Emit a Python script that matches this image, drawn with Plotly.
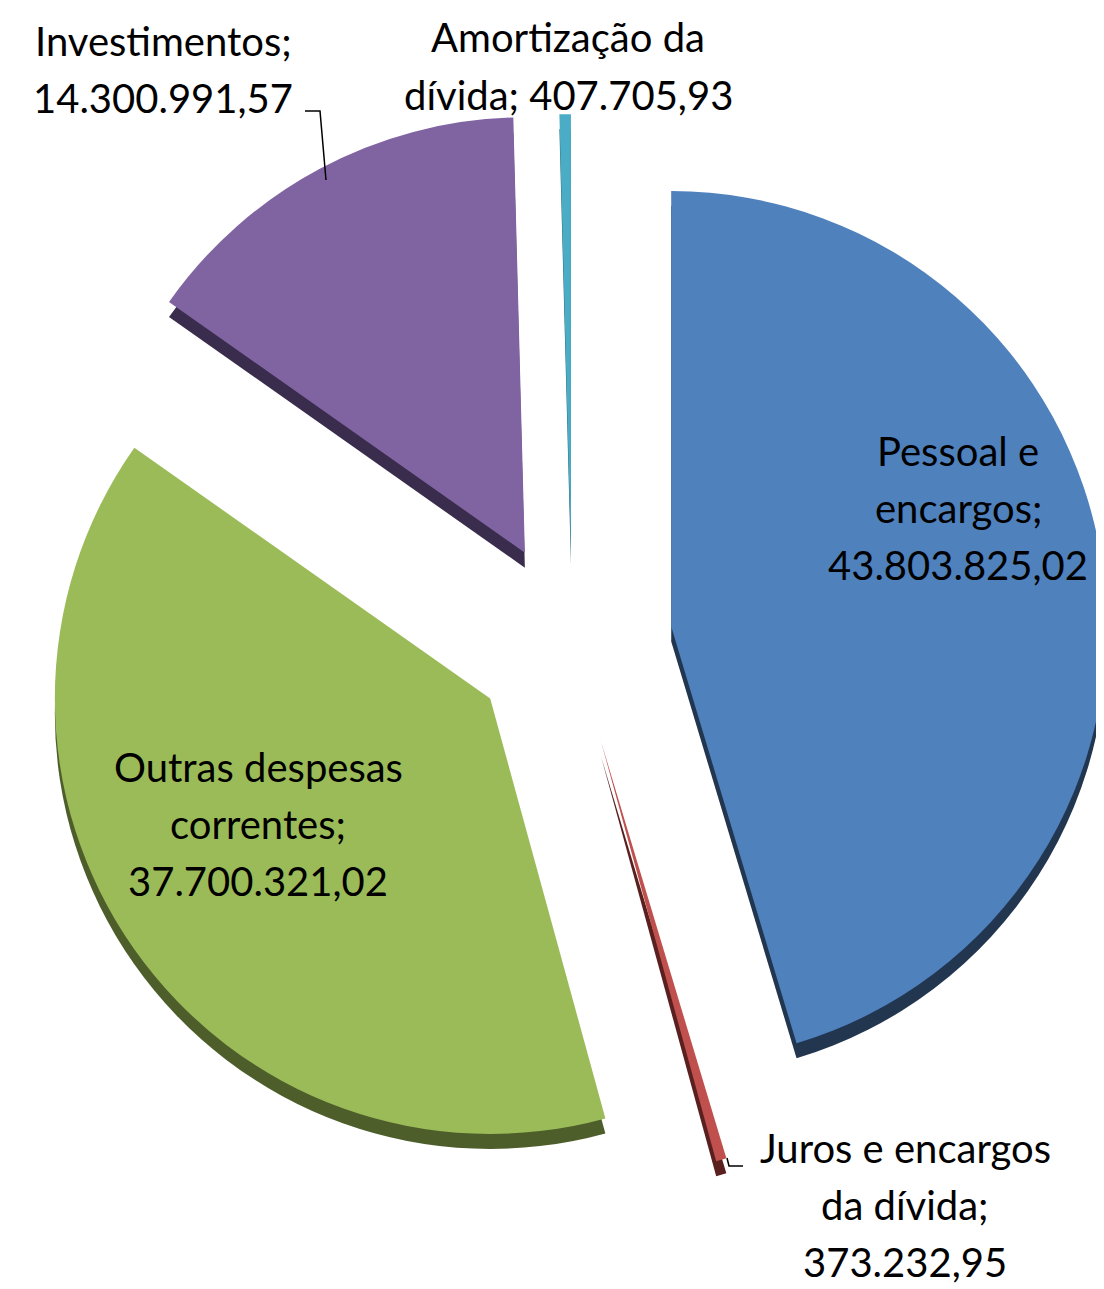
import plotly.graph_objects as go

# ---- data ----
categories = ["Pessoal e encargos", "Juros e encargos da dívida", "Outras despesas correntes",
              "Investimentos", "Amortização da dívida"]
values = [43803825.02, 373232.95, 37700321.02, 14300991.57, 407705.93]
label_lines = ["Pessoal e<br>encargos", "Juros e encargos<br>da dívida", "Outras despesas<br>correntes",
               "Investimentos", "Amortização da<br>dívida"]
value_sep = ["<br>", "<br>", "<br>", "<br>", " "]

# ---- style ----
top_colors = ["#4F81BD", "#C0504D", "#9BBB59", "#8064A2", "#4BACC6"]
side_colors = ["#22364F", "#5A2020", "#4E5E2B", "#3A2C4C", "#2B6877"]
pulls = [0.23, 0.24, 0.23, 0.23, 0.21]
W, H = 1104, 1289


def br_fmt(v):
    s = f"{v:,.2f}"
    return s.replace(",", "X").replace(".", ",").replace("X", ".")


texts = [f"{l};{sep}{br_fmt(v)}" for l, sep, v in zip(label_lines, value_sep, values)]

dom_x = [0.022, 1.0]
cy_px = 633
half = 560
dom_y = [1 - (cy_px + half) / H, 1 - (cy_px - half) / H]
shift = 15 / H

fig = go.Figure()
# 3D side (darker copy shifted down)
fig.add_trace(go.Pie(
    labels=categories, values=values, sort=False, direction="clockwise", rotation=0,
    pull=pulls, marker=dict(colors=side_colors, line=dict(width=0)),
    textinfo="none", hoverinfo="skip", showlegend=False,
    domain=dict(x=dom_x, y=[dom_y[0] - shift, dom_y[1] - shift]),
))
# top surface
fig.add_trace(go.Pie(
    labels=categories, values=values, sort=False, direction="clockwise", rotation=0,
    pull=pulls, marker=dict(colors=top_colors, line=dict(width=0)),
    textinfo="none", showlegend=False,
    domain=dict(x=dom_x, y=dom_y),
))

# label block centres (pixels) and line spacing
label_pos = [(950, 506), (897, 1203), (250, 822), (155, 68), (560, 64)]
line_gap = 57
for t, (px, py) in zip(texts, label_pos):
    lines = t.split("<br>")
    n = len(lines)
    for i, ln in enumerate(lines):
        ly = py + (i - (n - 1) / 2) * line_gap - 6
        fig.add_annotation(
            x=px / W, y=1 - ly / H, xref="paper", yref="paper",
            text=ln, showarrow=False, xanchor="center", yanchor="middle",
            font=dict(family="Lato", size=40, color="black"), align="center",
        )

# leader lines
fig.add_shape(type="path", xref="paper", yref="paper",
              path=f"M {297/W} {1-103/H} L {312/W} {1-103/H} L {318/W} {1-172/H}",
              line=dict(color="black", width=1.5))
fig.add_shape(type="path", xref="paper", yref="paper",
              path=f"M {735/W} {1-1158/H} L {721/W} {1-1158/H} L {719/W} {1-1150/H}",
              line=dict(color="black", width=1.5))

fig.update_layout(
    width=W, height=H, margin=dict(l=0, r=0, t=0, b=0),
    paper_bgcolor="white", plot_bgcolor="white",
)

fig.write_html("out.html")
